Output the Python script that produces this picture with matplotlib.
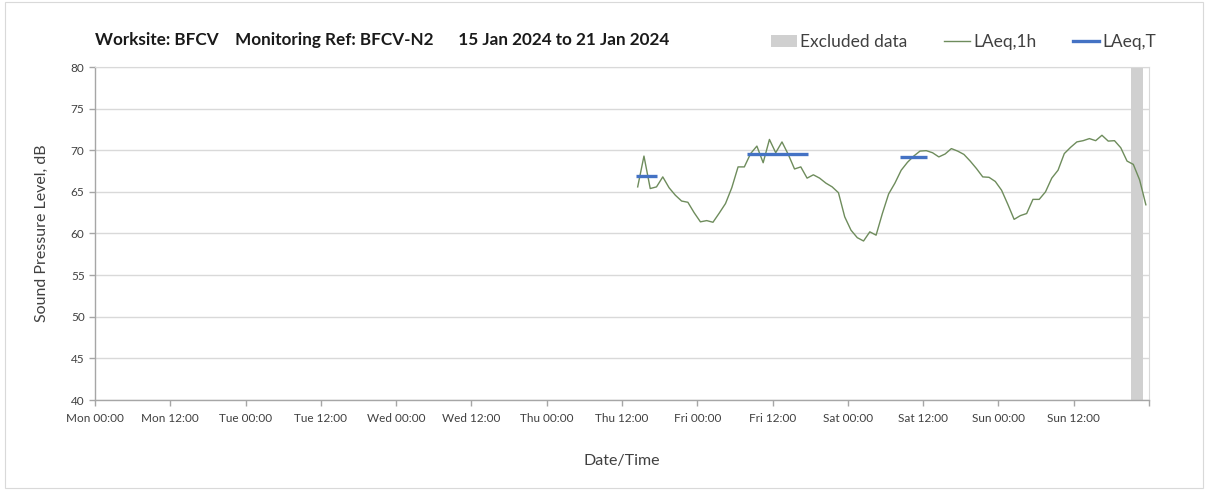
import matplotlib
matplotlib.use("Agg")
import matplotlib.pyplot as plt
import matplotlib.dates as mdates
from matplotlib.patches import Patch, Rectangle
from matplotlib.lines import Line2D
from matplotlib.ticker import FuncFormatter
import pandas as pd

plt.rcParams['font.family'] = ['Lato', 'DejaVu Sans']

# ---- data ----
title_text = "Worksite: BFCV    Monitoring Ref: BFCV-N2      15 Jan 2024 to 21 Jan 2024"
x_start = "2024-01-15 00:00"
x_end = "2024-01-22 00:00"
laeq1h_start = "2024-01-18 14:30"
laeq1h_values = [
    65.6, 69.3, 65.4, 65.6, 66.8, 65.5, 64.6, 63.9, 63.75, 62.5,
    61.4, 61.55, 61.35, 62.45, 63.6, 65.5, 68.0, 68.0, 69.6, 70.5,
    68.5, 71.3, 69.7, 71.0, 69.5, 67.75, 68.0, 66.65, 67.05, 66.65,
    66.05, 65.6, 64.9, 62.0, 60.4, 59.5, 59.1, 60.2, 59.8, 62.4,
    64.75, 66.05, 67.6, 68.55, 69.3, 69.9, 69.95, 69.7, 69.2, 69.55,
    70.2, 69.9, 69.5, 68.7, 67.8, 66.8, 66.75, 66.25, 65.2, 63.5,
    61.7, 62.15, 62.4, 64.1, 64.1, 65.0, 66.65, 67.6, 69.6, 70.35,
    71.0, 71.15, 71.4, 71.15, 71.8, 71.1, 71.15, 70.3, 68.7, 68.3,
    66.45, 63.45,
]
laeqT_starts = ["2024-01-18 14:15", "2024-01-19 08:00", "2024-01-20 08:15"]
laeqT_ends = ["2024-01-18 17:35", "2024-01-19 17:35", "2024-01-20 12:35"]
laeqT_values = [66.85, 69.5, 69.15]
excluded_start = "2024-01-21 21:05"
excluded_end = "2024-01-21 23:00"
y_ticks = [40, 45, 50, 55, 60, 65, 70, 75, 80]

# ---- figure ----
fig = plt.figure(figsize=(12.08, 4.9), dpi=100)
fig.patches.append(Rectangle((0.004, 0.004), 0.992, 0.992, transform=fig.transFigure,
                             fill=False, edgecolor='#D9D9D9', linewidth=0.8))
ax = fig.add_axes([95/1208, 1 - 400/490, (1149 - 95)/1208, (400 - 67)/490])

times = pd.date_range(laeq1h_start, periods=len(laeq1h_values), freq='h')
ax.axvspan(pd.Timestamp(excluded_start), pd.Timestamp(excluded_end),
           color='#D0D0D0', linewidth=0, zorder=1)
ax.plot(times, laeq1h_values, color='#6E8C5C', linewidth=1.0, zorder=3)
for s, e, v in zip(laeqT_starts, laeqT_ends, laeqT_values):
    ax.plot([pd.Timestamp(s), pd.Timestamp(e)], [v, v], color='#4472C4',
            linewidth=2.4, solid_capstyle='butt', zorder=4)

xmin, xmax = pd.Timestamp(x_start), pd.Timestamp(x_end)
ax.set_xlim(xmin, xmax)
ax.set_ylim(40, 80)
ax.set_yticks(y_ticks)
ax.xaxis.set_major_locator(mdates.HourLocator(byhour=[0, 12]))
xmax_num = mdates.date2num(xmax)


def fmt(v, pos):
    if abs(v - xmax_num) < 1e-6:
        return ''
    return mdates.num2date(v).strftime('%a %H:%M')


ax.xaxis.set_major_formatter(FuncFormatter(fmt))
ax.xaxis.set_minor_locator(mdates.HourLocator(byhour=[0]))

ax.grid(False)
ax.grid(True, which='minor', axis='x', color='#D9D9D9', linewidth=1.0, zorder=0)
ax.grid(True, which='major', axis='y', color='#D9D9D9', linewidth=1.0, zorder=0)
ax.set_axisbelow(True)

for sp in ['top', 'right']:
    ax.spines[sp].set_color('#D9D9D9')
for sp in ['left', 'bottom']:
    ax.spines[sp].set_color('#A6A6A6')
    ax.spines[sp].set_linewidth(1.0)

ax.tick_params(axis='both', which='major', labelsize=8.5, colors='#A6A6A6',
               labelcolor='#404040', length=4, width=1)
ax.tick_params(axis='x', which='minor', length=0)
ax.tick_params(axis='x', which='major', pad=5)

ax.set_ylabel("Sound Pressure Level, dB", fontsize=11.5, color='#404040', labelpad=16)
ax.set_xlabel("Date/Time", fontsize=11.5, color='#404040', labelpad=22)

fig.text(95/1208, 1 - 40/490, title_text, fontsize=12.3, fontweight='bold',
         color='#1A1A1A', ha='left', va='center')

handles = [Patch(facecolor='#D0D0D0', edgecolor='none'),
           Line2D([], [], color='#6E8C5C', linewidth=1.0),
           Line2D([], [], color='#4472C4', linewidth=2.4)]
labels = ["Excluded data", "LAeq,1h", "LAeq,T"]
fig.legend(handles, labels, loc='center right', bbox_to_anchor=(1172/1208, 1 - 42/490),
           ncol=3, frameon=False, fontsize=12.5, handlelength=1.5, handleheight=0.7,
           columnspacing=2.1, handletextpad=0.2, labelcolor='#404040')

fig.savefig("out.png", dpi=100)
